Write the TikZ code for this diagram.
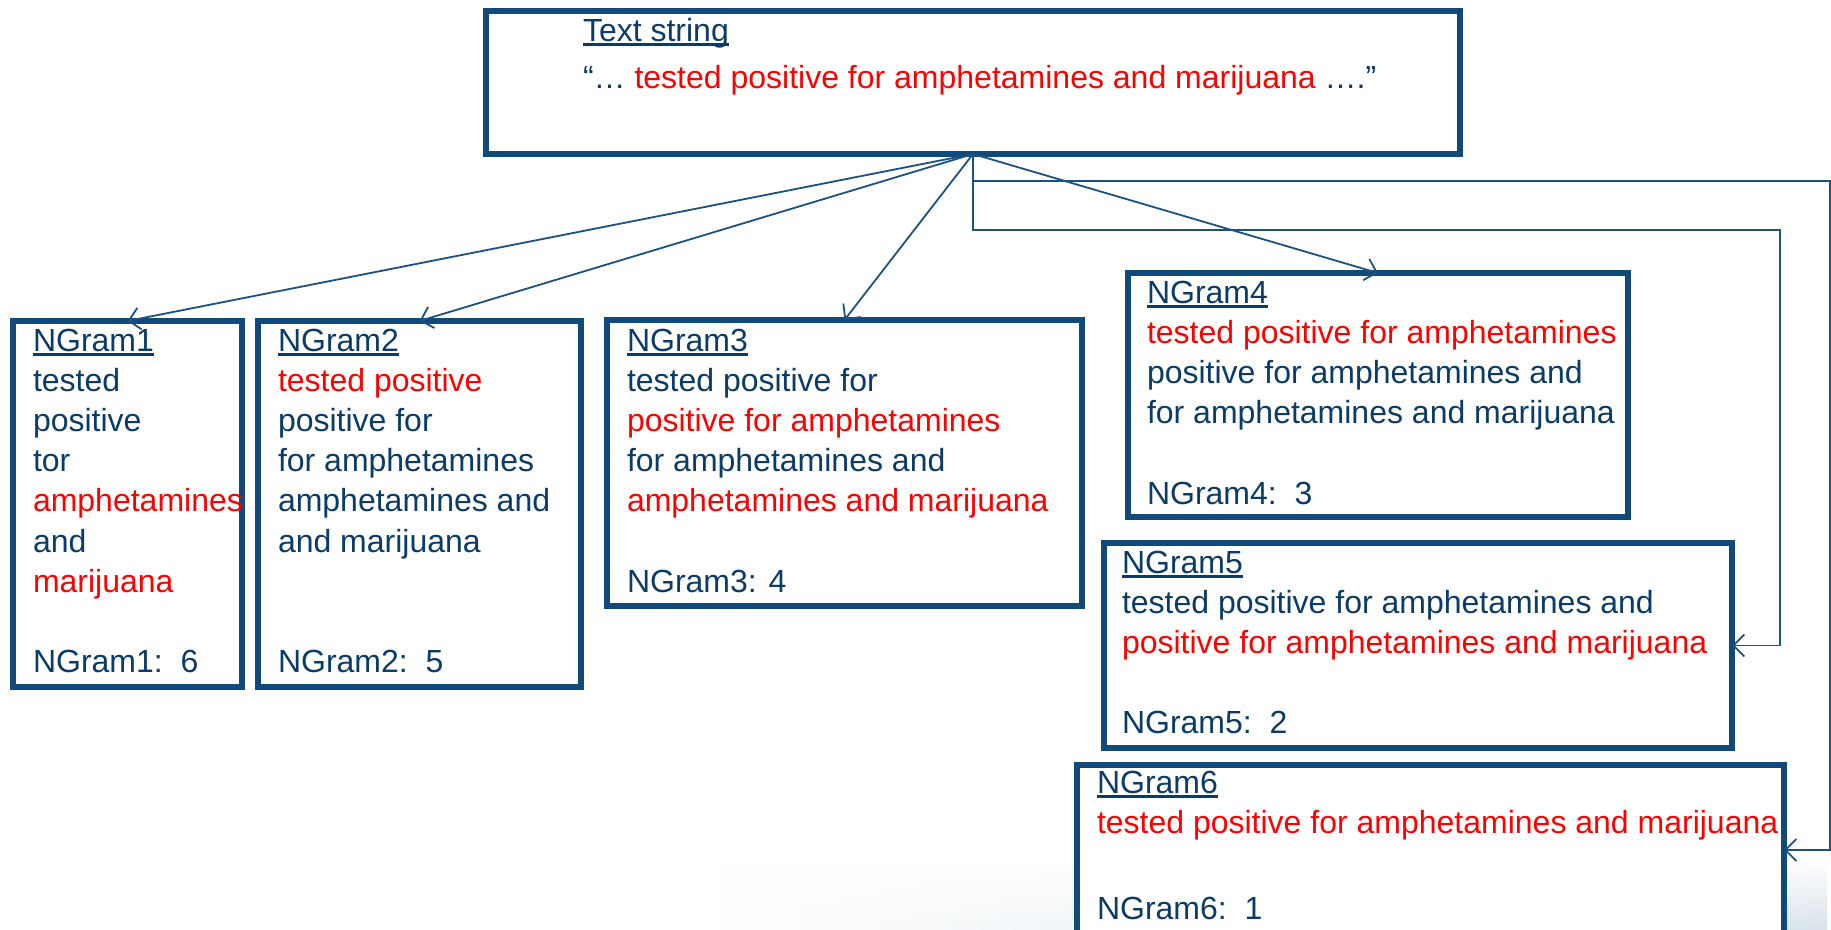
\documentclass[tikz,border=0pt]{standalone}
\usepackage{fontspec}
\setmainfont{Liberation Sans}
\usetikzlibrary{arrows.meta,fadings}
\definecolor{boxblue}{HTML}{0F4A7B}
\definecolor{textblue}{HTML}{0B3B68}
\definecolor{linkblue}{HTML}{1B5283}
\definecolor{hired}{HTML}{FF0000}
\definecolor{haze}{HTML}{D9E3EC}
\newcommand\myul[1]{\leavevmode{\setbox0\hbox{#1}\rlap{\rule[-4.5pt]{\wd0}{2.6pt}}\box0}}
\newcommand\rd[1]{\textcolor{hired}{#1}}
\begin{document}
\begin{tikzpicture}[x=1pt,y=-1pt,
  gbox/.style={draw=boxblue, fill=white, line width=5.5pt, inner sep=0pt, outer sep=0pt, anchor=north west},
  gtext/.style={anchor=base west, inner sep=0pt, outer sep=0pt, text=textblue, font=\fontsize{32}{40.2}\selectfont},
  link/.style={draw=linkblue, line width=1.8pt, -{Straight Barb[length=11pt,width=22pt]}}]
\useasboundingbox[fill=white] (0,0) rectangle (1831,929);
\shade[left color=white, right color=haze, path fading=north] (700,860) rectangle (1831,929);
% boxes
\node[gbox, minimum width=974pt, minimum height=143pt] (top) at (486,11) {};
\node[gbox, minimum width=229pt, minimum height=366pt] (b1) at (13,321) {};
\node[gbox, minimum width=323pt, minimum height=366pt] (b2) at (258,321) {};
\node[gbox, minimum width=475pt, minimum height=286pt] (b3) at (607,320) {};
\node[gbox, minimum width=500pt, minimum height=244pt] (b4) at (1128,273) {};
\node[gbox, minimum width=628pt, minimum height=205pt] (b5) at (1104,543) {};
\node[gbox, minimum width=707pt, minimum height=170pt] (b6) at (1077,765) {};
% texts
\node[gtext] (t0) at (583,41) {\parbox[t]{900pt}{\myul{Text string}\\[6.8pt]“… \rd{tested positive for amphetamines and marijuana} ….”}};
\node[gtext] (t1) at (33,351) {\parbox[t]{400pt}{\myul{NGram1}\\ tested\\ positive\\ tor\\ \rd{amphetamines}\\ and\\ \rd{marijuana}\\ \mbox{}\\ NGram1:\ \ 6}};
\node[gtext] (t2) at (278,351) {\parbox[t]{400pt}{\myul{NGram2}\\ \rd{tested positive}\\ positive for\\ for amphetamines\\ amphetamines and\\ and marijuana\\ \mbox{}\\ \mbox{}\\ NGram2:\ \ 5}};
\node[gtext] (t3) at (627,351) {\parbox[t]{600pt}{\myul{NGram3}\\ tested positive for\\ \rd{positive for amphetamines}\\ for amphetamines and\\ \rd{amphetamines and marijuana}\\ \mbox{}\\ NGram3: 4}};
\node[gtext] (t4) at (1147,303) {\parbox[t]{600pt}{\myul{NGram4}\\ \rd{tested positive for amphetamines}\\ positive for amphetamines and\\ for amphetamines and marijuana\\ \mbox{}\\ NGram4:\ \ 3}};
\node[gtext] (t5) at (1122,573) {\parbox[t]{700pt}{\myul{NGram5}\\ tested positive for amphetamines and\\ \rd{positive for amphetamines and marijuana}\\ \mbox{}\\ NGram5:\ \ 2}};
\node[gtext] (t6) at (1097,793) {\parbox[t]{720pt}{\myul{NGram6}\\ \rd{tested positive for amphetamines and marijuana}\\ \mbox{}\\[6pt] NGram6:\ \ 1}};
% connectors
\coordinate (c5) at (1780,230);
\coordinate (c6) at (1830,181);
\draw[link] (top.south) -- (b1.north);
\draw[link] (top.south) -- (b2.north);
\draw[link] (top.south) -- (b3.north);
\draw[link] (top.south) -- (b4.north);
\draw[link] (top.south) |- (c5) |- (b5.east);
\draw[link] (top.south) |- (c6) |- (b6.east);
\end{tikzpicture}
\end{document}
